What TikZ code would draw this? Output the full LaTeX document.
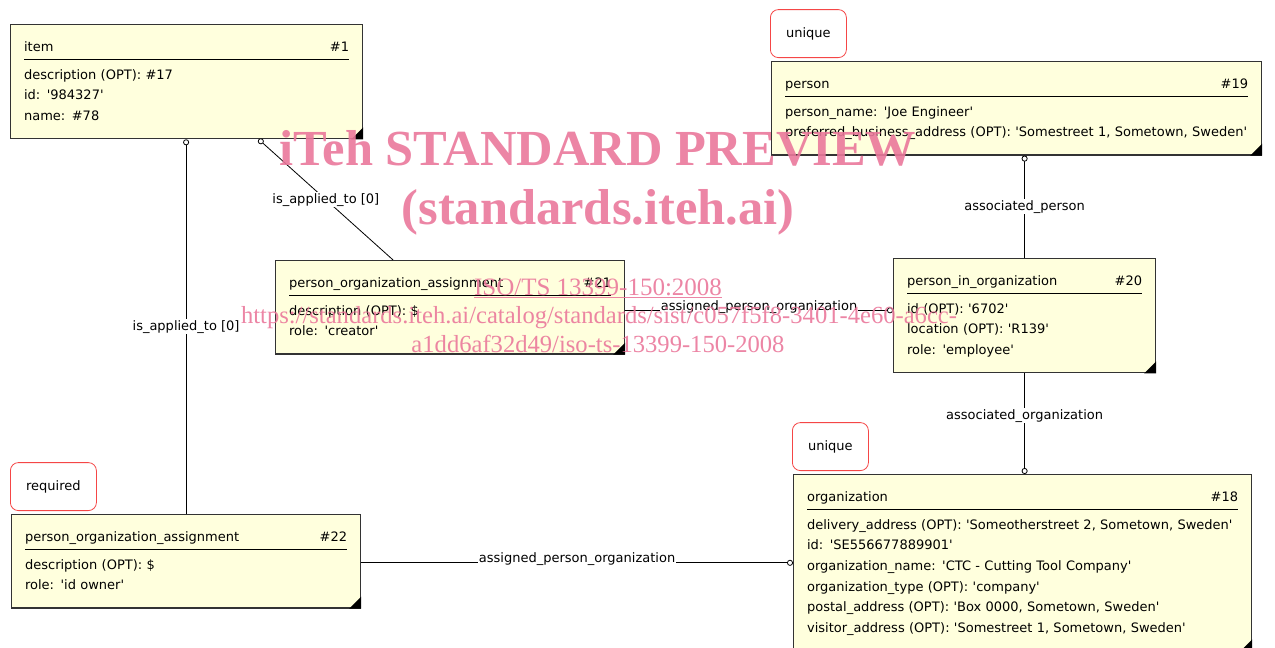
\documentclass[tikz,border=0pt]{standalone}
\usepackage{fontspec}
\setmainfont{DejaVu Sans}[Ligatures=TeXOff]
\newfontfamily\wmfont{Liberation Serif}
\usetikzlibrary{positioning,arrows.meta}
\definecolor{entfill}{RGB}{255,255,221}
\definecolor{tagred}{RGB}{245,70,70}
\definecolor{wmpink}{RGB}{234,120,155}
\newcommand{\enthead}[2]{\strut #1\hfill #2\par\kern1.8pt\hrule height 1.1pt\kern4.4pt}

\begin{document}
\begin{tikzpicture}[
    x=1pt, y=-1pt,
    font=\fontsize{13}{20.7}\selectfont,
    ent/.style={draw=black!80, line width=1.2pt, fill=entfill, anchor=north west,
                align=left, inner xsep=13.5pt, inner ysep=12pt},
    tag/.style={draw=tagred, line width=0.8pt, fill=white, rounded corners=8pt,
                minimum height=48pt, anchor=south west},
    rel/.style={line width=0.8pt, -{Circle[open, length=6pt, fill=white]}},
    lbl/.style={fill=white, inner sep=1pt},
    wm/.style={wmpink, opacity=0.9},
  ]
    \useasboundingbox (0,0) rectangle (1275,648);

    \node[ent, text width=325pt] (item) at (10,24)
      {\enthead{item}{\#1}\strut description (OPT): \#17\par\strut id: '984327'\par\strut name: \#78};
    \node[ent, text width=463pt] (person) at (771,61)
      {\enthead{person}{\#19}\strut person\_name: 'Joe Engineer'\par
       \strut preferred\_business\_address (OPT): 'Somestreet 1, Sometown, Sweden'};
    \node[ent, text width=322pt] (poa21) at (275,260)
      {\enthead{person\_organization\_assignment}{\#21}\strut description (OPT): \$\par\strut role: 'creator'};
    \node[ent, text width=235pt] (pio) at (893,258)
      {\enthead{person\_in\_organization}{\#20}\strut id (OPT): '6702'\par
       \strut location (OPT): 'R139'\par\strut role: 'employee'};
    \node[ent, text width=431pt] (org) at (793,474)
      {\enthead{organization}{\#18}\strut delivery\_address (OPT): 'Someotherstreet 2, Sometown, Sweden'\par
       \strut id: 'SE556677889901'\par
       \strut organization\_name: 'CTC - Cutting Tool Company'\par
       \strut organization\_type (OPT): 'company'\par
       \strut postal\_address (OPT): 'Box 0000, Sometown, Sweden'\par
       \strut visitor\_address (OPT): 'Somestreet 1, Sometown, Sweden'};
    \node[ent, text width=322pt] (poa22) at (11,514)
      {\enthead{person\_organization\_assignment}{\#22}\strut description (OPT): \$\par\strut role: 'id owner'};

    \foreach \e in {item,person,poa21,pio,org,poa22}
      \fill (\e.south east) -- ++(-12pt,0pt) -- ++(12pt,12pt) -- cycle;

    % constraint tags
    \node[tag, minimum width=76pt] (uperson) at ([xshift=-1pt, yshift=3pt]person.north west) {unique};
    \node[tag, minimum width=76pt] (uorg) at ([xshift=-1pt, yshift=3pt]org.north west) {unique};
    \node[tag, minimum width=86pt] (req) at ([xshift=-1pt, yshift=3pt]poa22.north west) {required};

    % relations
    \coordinate (a21) at ([yshift=-3pt]poa21.east);
    \coordinate (a22) at ([yshift=-1.5pt]poa22.east);
    \draw[rel] (poa22.north) -- (poa22.north |- item.south) node[lbl, midway] {is\_applied\_to [0]};
    \draw[rel] ([xshift=-57pt]poa21.north) -- ([xshift=72pt]item.south) node[lbl, midway] {is\_applied\_to [0]};
    \draw[rel] (a21) -- (a21 -| pio.west) node[lbl, midway, anchor=base] {assigned\_person\_organization};
    \draw[rel] (pio.north) -- (pio.north |- person.south) node[lbl, midway] {associated\_person};
    \draw[rel] (pio.south) -- (pio.south |- org.north) node[lbl, pos=0.42] {associated\_organization};
    \draw[rel] (a22) -- (a22 -| org.west) node[lbl, midway, anchor=base] {assigned\_person\_organization};

    % watermark
    \node[wm, anchor=base, font=\wmfont\bfseries\fontsize{50.5}{56}\selectfont] (wm1) at (598,165) {iTeh STANDARD PREVIEW};
    \node[wm, anchor=base, font=\wmfont\bfseries\fontsize{50.5}{56}\selectfont] (wm2) at (598,224) {(standards.iteh.ai)};
    \node[wm, anchor=base, font=\wmfont\fontsize{25}{29}\selectfont] (wm3) at (598,295) {\underline{ISO/TS 13399-150:2008}};
    \node[wm, anchor=base, font=\wmfont\fontsize{24.6}{29}\selectfont] (wm4) at (599,323)
      {https://standards.iteh.ai/catalog/standards/sist/c057f5f8-3401-4e60-a6cc-};
    \node[wm, anchor=base, font=\wmfont\fontsize{24.6}{29}\selectfont] (wm5) at (598,352) {a1dd6af32d49/iso-ts-13399-150-2008};
  \end{tikzpicture}
\end{document}
